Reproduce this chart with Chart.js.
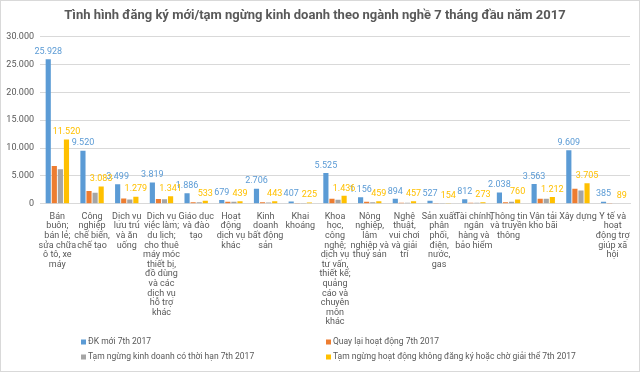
<!DOCTYPE html>
<html>
<head>
<meta charset="utf-8">
<script src="https://cdn.jsdelivr.net/npm/chart.js@4"></script>
<style>
  html, body { margin: 0; padding: 0; background: #fff; }
  #wrap { width: 640px; height: 372px; position: relative; }
</style>
</head>
<body>
<div id="wrap"><canvas id="chart-bar"></canvas></div>
<script>
var categories = [
  ['Bán', 'buôn;', 'bán lẻ;', 'sửa chữa', 'ô tô, xe', 'máy'],
  ['Công', 'nghiệp', 'chế biến,', 'chế tạo'],
  ['Dịch vụ', 'lưu trú', 'và ăn', 'uống'],
  ['Dịch vụ', 'việc làm;', 'du lịch;', 'cho thuê', 'máy móc', 'thiết bị,', 'đồ dùng', 'và các', 'dịch vụ', 'hỗ trợ', 'khác'],
  ['Giáo dục', 'và đào', 'tạo'],
  ['Hoạt', 'động', 'dịch vụ', 'khác'],
  ['Kinh', 'doanh', 'bất động', 'sản'],
  ['Khai', 'khoáng'],
  ['Khoa', 'học,', 'công', 'nghệ;', 'dịch vụ', 'tư vấn,', 'thiết kế;', 'quảng', 'cáo và', 'chuyên', 'môn', 'khác'],
  ['Nông', 'nghiệp,', 'lâm', 'nghiệp và', 'thuỷ sản'],
  ['Nghệ', 'thuật,', 'vui chơi', 'và giải', 'trí'],
  ['Sản xuất', 'phân', 'phối,', 'điện,', 'nước,', 'gas'],
  ['Tài chính,', 'ngân', 'hàng và', 'bảo hiểm'],
  ['Thông tin', 'và truyền', 'thông'],
  ['Vận tải', 'kho bãi'],
  ['Xây dựng'],
  ['Y tế và', 'hoạt', 'động trợ', 'giúp xã', 'hội']
];

var seriesNames = [
  'ĐK mới 7th 2017',
  'Quay lại hoạt động 7th 2017',
  'Tạm ngừng kinh doanh có thời hạn 7th 2017',
  'Tạm ngừng hoạt động không đăng ký hoặc chờ giải thể 7th 2017'
];

var dkMoi      = [25928, 9520, 3499, 3819, 1886, 679, 2706, 407, 5525, 1156, 894, 527, 812, 2038, 3563, 9609, 385];
var quayLai    = [6800, 2290, 950, 850, 300, 360, 300, 150, 900, 370, 180, 150, 200, 300, 900, 2700, 150];
var tamNgung   = [6200, 1980, 780, 800, 300, 350, 250, 150, 720, 270, 200, 150, 170, 350, 900, 2400, 120];
var choGiaiThe = [11520, 3083, 1279, 1341, 533, 439, 443, 225, 1436, 459, 457, 154, 273, 760, 1212, 3705, 89];

var yTicks = [0, 5000, 10000, 15000, 20000, 25000, 30000];

var colors = ['#5b9bd5', '#ed7d31', '#a5a5a5', '#ffc000'];
var FONT = 'Roboto';

function fmt(v) {
  return String(v).replace(/\B(?=(\d{3})+(?!\d))/g, '.');
}

// nhan so lieu cho cot xanh va vang
var valueLabels = {
  id: 'valueLabels',
  afterDatasetsDraw: function (chart) {
    var ctx = chart.ctx;
    ctx.save();
    ctx.font = '9px ' + FONT;
    ctx.textAlign = 'center';
    ctx.textBaseline = 'bottom';
    chart.data.datasets.forEach(function (ds, i) {
      if (!ds.showValues) return;
      var meta = chart.getDatasetMeta(i);
      ctx.fillStyle = ds.backgroundColor;
      meta.data.forEach(function (bar, j) {
        ctx.fillText(fmt(ds.data[j]), bar.x, bar.y - 3);
      });
    });
    ctx.restore();
  }
};

// legend 2 cot o duoi + vien ngoai
var gridLegend = {
  id: 'gridLegend',
  beforeDraw: function (chart) {
    var ctx = chart.ctx;
    ctx.save();
    ctx.fillStyle = '#fff';
    ctx.fillRect(0, 0, chart.width, chart.height);
    ctx.restore();
  },
  afterDraw: function (chart) {
    var ctx = chart.ctx;
    ctx.save();
    ctx.strokeStyle = '#d9d9d9';
    ctx.lineWidth = 1;
    ctx.strokeRect(0.5, 0.5, chart.width - 1, chart.height - 1);
    ctx.font = '8.5px ' + FONT;
    ctx.textBaseline = 'middle';
    ctx.textAlign = 'left';
    var cols = [81, 326];
    var rows = [342, 357];
    chart.data.datasets.forEach(function (ds, i) {
      var x = cols[i % 2], y = rows[Math.floor(i / 2)];
      ctx.fillStyle = ds.backgroundColor;
      ctx.fillRect(x, y - 2.5, 5, 5);
      ctx.fillStyle = '#595959';
      ctx.fillText(ds.label, x + 7, y);
    });
    ctx.restore();
  }
};

var ctx1 = document.getElementById('chart-bar').getContext('2d');

new Chart(ctx1, {
  type: 'bar',
  data: {
    labels: categories,
    datasets: [
      { label: seriesNames[0], data: dkMoi, backgroundColor: colors[0], showValues: true },
      { label: seriesNames[1], data: quayLai, backgroundColor: colors[1] },
      { label: seriesNames[2], data: tamNgung, backgroundColor: colors[2] },
      { label: seriesNames[3], data: choGiaiThe, backgroundColor: colors[3], showValues: true }
    ]
  },
  options: {
    responsive: true,
    maintainAspectRatio: false,
    animation: false,
    datasets: {
      bar: { categoryPercentage: 0.7, barPercentage: 0.85 }
    },
    layout: { padding: { left: 0, right: 10, top: 0, bottom: 45 } },
    plugins: {
      legend: { display: false },
      tooltip: { enabled: false },
      title: {
        display: true,
        text: 'Tình hình đăng ký mới/tạm ngừng kinh doanh theo ngành nghề 7 tháng đầu năm 2017',
        color: '#595959',
        font: { family: FONT, size: 13, weight: 'bold' },
        padding: { top: 8, bottom: 13 }
      }
    },
    scales: {
      y: {
        min: 0,
        max: 30000,
        afterFit: function (scale) { scale.width = 40; },
        afterBuildTicks: function (scale) {
          scale.ticks = yTicks.map(function (v) { return { value: v }; });
        },
        grid: { color: '#d9d9d9', drawTicks: false },
        border: { display: false },
        ticks: {
          color: '#595959',
          padding: 6,
          font: { family: FONT, size: 9 },
          callback: function (v) { return fmt(v); }
        }
      },
      x: {
        grid: { display: false },
        border: { display: true, color: '#d9d9d9' },
        ticks: {
          color: '#595959',
          padding: 0,
          autoSkip: false,
          maxRotation: 0,
          minRotation: 0,
          font: { family: FONT, size: 9, lineHeight: '9.6px' }
        }
      }
    }
  },
  plugins: [valueLabels, gridLegend]
});
</script>
</body>
</html>
